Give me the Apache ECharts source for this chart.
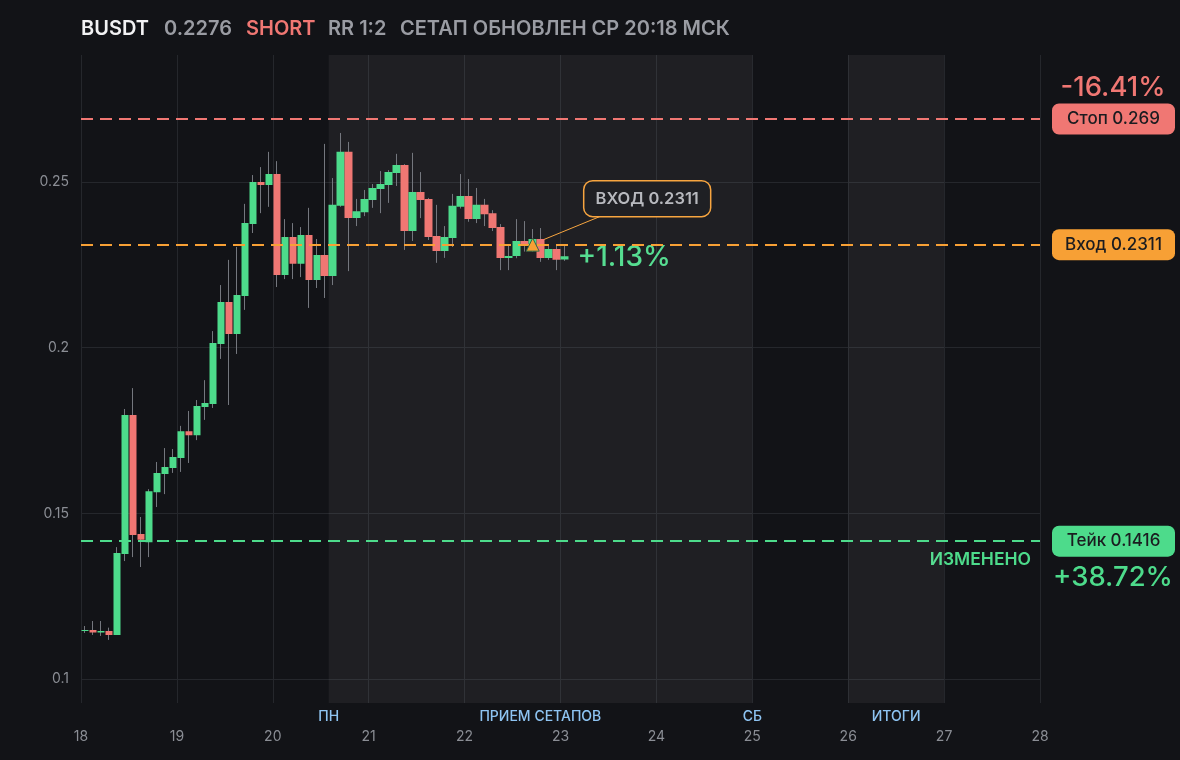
<!DOCTYPE html>
<html><head><meta charset="utf-8">
<script src="https://cdn.jsdelivr.net/npm/echarts@6/dist/echarts.min.js"></script>
<style>html,body{margin:0;padding:0;background:#121317;}#c{width:1180px;height:760px;}</style>
</head><body><div id="c"></div>
<script>
// ---- data ----
const dayTicks = [18, 19, 20, 21, 22, 23, 24, 25, 26, 27, 28];
const priceTicks = [0.1, 0.15, 0.2, 0.25];
const firstDay = 18;
const candlesPerDay = 12; // 2h candles
const opens  = [0.1145,0.1148,0.1140,0.1145,0.1133,0.1377,0.1797,0.1438,0.1413,0.1564,0.1619,0.1637,0.1667,0.1748,0.1736,0.1821,0.1830,0.2011,0.2138,0.2041,0.2156,0.2373,0.2500,0.2491,0.2524,0.2219,0.2334,0.2253,0.2340,0.2204,0.2280,0.2216,0.2428,0.2591,0.2391,0.2409,0.2446,0.2479,0.2491,0.2527,0.2551,0.2352,0.2470,0.2449,0.2337,0.2292,0.2331,0.2425,0.2458,0.2388,0.2431,0.2406,0.2364,0.2271,0.2277,0.2322,0.2307,0.2328,0.2271,0.2298,0.2266];
const closes = [0.1148,0.1140,0.1145,0.1133,0.1380,0.1797,0.1435,0.1420,0.1567,0.1622,0.1640,0.1670,0.1748,0.1736,0.1824,0.1833,0.2014,0.2138,0.2041,0.2159,0.2376,0.2500,0.2491,0.2524,0.2219,0.2334,0.2253,0.2340,0.2204,0.2280,0.2216,0.2431,0.2591,0.2391,0.2412,0.2449,0.2482,0.2494,0.2530,0.2551,0.2352,0.2470,0.2446,0.2334,0.2292,0.2334,0.2428,0.2458,0.2388,0.2431,0.2403,0.2361,0.2271,0.2277,0.2322,0.2307,0.2328,0.2271,0.2298,0.2265,0.2276];
const lows   = [0.1139,0.1133,0.1130,0.1118,0.1133,0.1356,0.1368,0.1338,0.1368,0.1519,0.1558,0.1622,0.1625,0.1652,0.1721,0.1782,0.1818,0.1966,0.1827,0.1981,0.2114,0.2346,0.2406,0.2425,0.2183,0.2207,0.2207,0.2213,0.2120,0.2180,0.2150,0.2189,0.2425,0.2231,0.2367,0.2397,0.2422,0.2406,0.2437,0.2488,0.2295,0.2322,0.2391,0.2325,0.2256,0.2271,0.2304,0.2420,0.2380,0.2376,0.2367,0.2352,0.2234,0.2234,0.2270,0.2290,0.2290,0.2259,0.2265,0.2234,0.2262];
const highs  = [0.1160,0.1175,0.1175,0.1155,0.1398,0.1815,0.1878,0.1489,0.1573,0.1655,0.1697,0.1694,0.1764,0.1809,0.1842,0.1902,0.2050,0.2189,0.2265,0.2304,0.2434,0.2521,0.2545,0.2591,0.2563,0.2388,0.2376,0.2364,0.2422,0.2328,0.2615,0.2512,0.2648,0.2621,0.2449,0.2476,0.2494,0.2533,0.2536,0.2585,0.2554,0.2588,0.2530,0.2452,0.2431,0.2367,0.2464,0.2524,0.2509,0.2482,0.2449,0.2415,0.2373,0.2310,0.2388,0.2382,0.2358,0.2361,0.2310,0.2307,0.2307];
const symbol = 'BUSDT';
const lastPrice = 0.2276;
const side = 'SHORT';
const rrText = 'RR 1:2';
const updatedText = 'СЕТАП ОБНОВЛЕН СР 20:18 МСК';
const stopPrice = 0.269;
const entryPrice = 0.2311;
const takePrice = 0.1416;
const stopPct = '-16.41%';
const takePct = '+38.72%';
const currentPct = '+1.13%';
const entryMarkDay = 22.71;
const zones = [[20.583, 25], [26, 27]];
const zoneLabels = [
  { day: 20.583, text: 'ПН' },
  { day: 22.79, text: 'ПРИЕМ СЕТАПОВ' },
  { day: 25, text: 'СБ' },
  { day: 26.5, text: 'ИТОГИ' }
];

// ---- colours ----
const UP = '#4ddb8b', DOWN = '#f07773', ORANGE = '#f7a035', WICK = '#74777e';
const BG = '#121317', GRIDC = '#25272c', AXT = '#8b8e95', ZONE_T = '#8ec4f2';

const candleX = opens.map((o, i) => firstDay + (i + 0.5) / candlesPerDay);
const bodyData = opens.map((o, i) => [candleX[i], o, closes[i], lows[i], highs[i]]);

const chart = echarts.init(document.getElementById('c'), null, { renderer: 'canvas' });
const FONT = 'Inter, "Noto Sans", sans-serif';

const option = {
  backgroundColor: BG,
  animation: false,
  textStyle: { fontFamily: FONT },
  grid: { left: 81, right: 140, top: 55, bottom: 57, containLabel: false },
  xAxis: {
    type: 'value', min: 18, max: 28, interval: 1,
    axisLine: { show: false }, axisTick: { show: false },
    axisLabel: { color: AXT, fontSize: 14, margin: 27, fontFamily: FONT },
    splitLine: { show: true, lineStyle: { color: GRIDC, width: 1 } }
  },
  yAxis: {
    type: 'value', min: 0.09276, max: 0.28833, scale: true,
    axisLine: { show: false },
    axisTick: { show: false, customValues: priceTicks },
    axisLabel: { color: AXT, fontSize: 14, margin: 12, customValues: priceTicks, fontFamily: FONT },
    splitLine: { show: true, lineStyle: { color: GRIDC, width: 1 } }
  },
  series: [
    {
      type: 'candlestick', name: 'wick', data: bodyData, barWidth: 1,
      itemStyle: { color: WICK, color0: WICK, borderColor: WICK, borderColor0: WICK, borderWidth: 1 },
      markArea: {
        silent: true,
        itemStyle: { color: 'rgba(255,255,255,0.055)' },
        data: zones.map(z => [{ xAxis: z[0] }, { xAxis: z[1] }])
      },
      z: 2
    },
    {
      type: 'candlestick', name: 'ohlc', data: bodyData, barWidth: 8,
      itemStyle: { color: UP, color0: DOWN, borderColor: UP, borderColor0: DOWN, borderWidth: 0 },
      markLine: {
        silent: true, symbol: 'none', label: { show: false }, precision: 6,
        data: [
          { yAxis: stopPrice, lineStyle: { color: DOWN, type: [12, 7], width: 2 } },
          { yAxis: entryPrice, lineStyle: { color: ORANGE, type: [12, 7], width: 2 } },
          { yAxis: takePrice, lineStyle: { color: UP, type: [12, 7], width: 2 } }
        ]
      },
      markPoint: {
        silent: true,
        data: [{ coord: [entryMarkDay, entryPrice], symbol: 'triangle', symbolSize: [13, 13],
          itemStyle: { color: ORANGE, borderColor: '#2f6b4a', borderWidth: 1 }, label: { show: false } }]
      },
      z: 3
    }
  ]
};
chart.setOption(option);

function px(x, y) { return chart.convertToPixel({ gridIndex: 0 }, [x, y]); }
function yPx(v) { return chart.convertToPixel({ yAxisIndex: 0 }, v); }
function xPx(v) { return chart.convertToPixel({ xAxisIndex: 0 }, v); }

const g = [];
// header
const hdr = [
  { t: symbol, x: 81, c: '#f2f2f4' },
  { t: String(lastPrice), x: 164, c: '#9a9ca3' },
  { t: side, x: 246, c: DOWN },
  { t: rrText, x: 328, c: '#9a9ca3' },
  { t: updatedText, x: 400, c: '#9a9ca3' }
];
hdr.forEach(h => g.push({ type: 'text', style: { text: h.t, x: h.x, y: 29, fill: h.c, font: '600 20px ' + FONT, textAlign: 'left', textVerticalAlign: 'middle' } }));

// right pills
function pill(price, label, color, pctText, pctDy) {
  const y = yPx(price);
  g.push({ type: 'rect', shape: { x: 1052, y: y - 15.5, width: 123, height: 31, r: 7 }, style: { fill: color } });
  g.push({ type: 'text', style: { text: label + ' ' + price, x: 1113.5, y: y, fill: '#1b1c20', font: '500 17px ' + FONT, textAlign: 'center', textVerticalAlign: 'middle' } });
  if (pctText) g.push({ type: 'text', style: { text: pctText, x: 1113, y: y + pctDy, fill: color, font: '500 27.5px ' + FONT, textAlign: 'center', textVerticalAlign: 'middle' } });
}
pill(stopPrice, 'Стоп', DOWN, stopPct, -31);
pill(entryPrice, 'Вход', ORANGE, null, 0);
pill(takePrice, 'Тейк', UP, takePct, 37);

// changed label
g.push({ type: 'text', style: { text: 'ИЗМЕНЕНО', x: 1031, y: yPx(takePrice) + 19, fill: UP, font: '600 17.5px ' + FONT, textAlign: 'right', textVerticalAlign: 'middle' } });

// current pct near last candle
const lastX = xPx(firstDay + (opens.length) / candlesPerDay);
g.push({ type: 'text', style: { text: currentPct, x: lastX + 9, y: yPx(entryPrice) + 13, fill: UP, font: '500 28px ' + FONT, textAlign: 'left', textVerticalAlign: 'middle' } });

// entry callout
const mp = px(entryMarkDay, entryPrice);
const bx = mp[0] + 51, by = mp[1] - 64;
g.push({ type: 'line', shape: { x1: mp[0] + 6, y1: mp[1] - 3, x2: bx + 16, y2: by + 36 }, style: { stroke: ORANGE, lineWidth: 1 } });
g.push({ type: 'rect', shape: { x: bx, y: by, width: 127, height: 36, r: 9 }, style: { fill: '#131418', stroke: ORANGE, lineWidth: 1.5 } });
g.push({ type: 'text', style: { text: 'ВХОД ' + entryPrice, x: bx + 63.5, y: by + 18, fill: '#b3b5bb', font: '600 16.5px ' + FONT, textAlign: 'center', textVerticalAlign: 'middle' } });

// zone labels
zoneLabels.forEach(z => g.push({ type: 'text', style: { text: z.text, x: xPx(z.day), y: 717, fill: ZONE_T, font: '500 14px ' + FONT, textAlign: 'center', textVerticalAlign: 'middle' } }));

chart.setOption({ graphic: { elements: g } });
</script></body></html>
